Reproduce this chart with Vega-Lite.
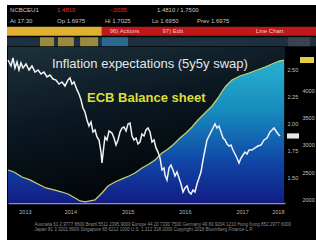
{
  "$schema": "https://vega.github.io/schema/vega-lite/v6.json",
  "background": "#ffffff",
  "padding": {"left": 5, "top": 5, "right": 0, "bottom": 0},
  "spacing": 0,
  "config": {"view": {"stroke": null, "fill": "#000000"}, "font": "Liberation Sans"},
  "datasets": {
    "header": [
      {"row": "status", "seg": "yellow", "a": 0, "b": 30.5},
      {"row": "status", "seg": "red", "a": 30.5, "b": 100},
      {"row": "toolbar", "seg": "slate", "a": 0, "b": 100},
      {"row": "toolbar", "seg": "amber", "a": 10.6, "b": 15.1},
      {"row": "toolbar", "seg": "amber", "a": 16.4, "b": 21.5},
      {"row": "toolbar", "seg": "amber", "a": 23.5, "b": 29.3},
      {"row": "toolbar", "seg": "blue", "a": 30.5, "b": 38.9},
      {"row": "toolbar", "seg": "gray", "a": 90.4, "b": 97.4}
    ],
    "headerText": [
      {"row": "r1", "a": 1, "txt": "NCBCEU1", "tone": "w"},
      {"row": "r1", "a": 16.1, "txt": "1.4810", "tone": "r"},
      {"row": "r1", "a": 33.1, "txt": "-.0035", "tone": "r"},
      {"row": "r1", "a": 48.2, "txt": "1.4810 / 1.7500", "tone": "w"},
      {"row": "r2", "a": 1, "txt": "At 17:30", "tone": "w"},
      {"row": "r2", "a": 16.1, "txt": "Op 1.6975", "tone": "w"},
      {"row": "r2", "a": 31.5, "txt": "Hi 1.7025", "tone": "w"},
      {"row": "r2", "a": 46.6, "txt": "Lo 1.6950", "tone": "w"},
      {"row": "r2", "a": 61.1, "txt": "Prev 1.6975", "tone": "w"},
      {"row": "status", "a": 33, "txt": "96) Actions", "tone": "p"},
      {"row": "status", "a": 50, "txt": "97) Edit", "tone": "p"},
      {"row": "status", "a": 80, "txt": "Line Chart", "tone": "p"}
    ],
    "infl": [
      {"t": 2013.410, "v": 2.583}, {"t": 2013.462, "v": 2.528}, {"t": 2013.497, "v": 2.602}, {"t": 2013.532, "v": 2.509},
      {"t": 2013.567, "v": 2.565}, {"t": 2013.602, "v": 2.491}, {"t": 2013.637, "v": 2.556}, {"t": 2013.672, "v": 2.509},
      {"t": 2013.725, "v": 2.546}, {"t": 2013.777, "v": 2.491}, {"t": 2013.829, "v": 2.528}, {"t": 2013.882, "v": 2.472},
      {"t": 2013.934, "v": 2.491}, {"t": 2013.987, "v": 2.454}, {"t": 2014.039, "v": 2.472}, {"t": 2014.091, "v": 2.426},
      {"t": 2014.144, "v": 2.444}, {"t": 2014.196, "v": 2.407}, {"t": 2014.249, "v": 2.398}, {"t": 2014.301, "v": 2.361},
      {"t": 2014.354, "v": 2.380}, {"t": 2014.406, "v": 2.343}, {"t": 2014.458, "v": 2.398}, {"t": 2014.493, "v": 2.417},
      {"t": 2014.528, "v": 2.361}, {"t": 2014.563, "v": 2.380}, {"t": 2014.616, "v": 2.306}, {"t": 2014.651, "v": 2.269},
      {"t": 2014.686, "v": 2.213}, {"t": 2014.720, "v": 2.139}, {"t": 2014.755, "v": 2.102}, {"t": 2014.790, "v": 2.028},
      {"t": 2014.825, "v": 1.972}, {"t": 2014.860, "v": 2.009}, {"t": 2014.895, "v": 1.917}, {"t": 2014.930, "v": 1.935},
      {"t": 2014.965, "v": 1.870}, {"t": 2015.000, "v": 1.843}, {"t": 2015.035, "v": 1.731}, {"t": 2015.052, "v": 1.630},
      {"t": 2015.087, "v": 1.796}, {"t": 2015.105, "v": 1.870}, {"t": 2015.140, "v": 1.843}, {"t": 2015.175, "v": 1.926},
      {"t": 2015.227, "v": 1.907}, {"t": 2015.262, "v": 1.861}, {"t": 2015.297, "v": 1.796}, {"t": 2015.332, "v": 1.843},
      {"t": 2015.367, "v": 1.917}, {"t": 2015.402, "v": 1.954}, {"t": 2015.437, "v": 1.963}, {"t": 2015.472, "v": 1.926},
      {"t": 2015.507, "v": 1.991}, {"t": 2015.542, "v": 2.000}, {"t": 2015.577, "v": 1.880}, {"t": 2015.612, "v": 1.843},
      {"t": 2015.647, "v": 1.861}, {"t": 2015.681, "v": 1.806}, {"t": 2015.716, "v": 1.824}, {"t": 2015.751, "v": 1.898},
      {"t": 2015.786, "v": 1.880}, {"t": 2015.821, "v": 1.935}, {"t": 2015.856, "v": 1.954}, {"t": 2015.891, "v": 1.917},
      {"t": 2015.926, "v": 1.824}, {"t": 2015.961, "v": 1.843}, {"t": 2015.996, "v": 1.769}, {"t": 2016.031, "v": 1.731},
      {"t": 2016.066, "v": 1.676}, {"t": 2016.101, "v": 1.565}, {"t": 2016.136, "v": 1.583}, {"t": 2016.153, "v": 1.519},
      {"t": 2016.188, "v": 1.472}, {"t": 2016.223, "v": 1.583}, {"t": 2016.258, "v": 1.611}, {"t": 2016.293, "v": 1.565},
      {"t": 2016.328, "v": 1.509}, {"t": 2016.363, "v": 1.546}, {"t": 2016.398, "v": 1.491}, {"t": 2016.433, "v": 1.435},
      {"t": 2016.468, "v": 1.361}, {"t": 2016.503, "v": 1.398}, {"t": 2016.538, "v": 1.417}, {"t": 2016.573, "v": 1.361},
      {"t": 2016.608, "v": 1.343}, {"t": 2016.643, "v": 1.380}, {"t": 2016.677, "v": 1.361}, {"t": 2016.712, "v": 1.435},
      {"t": 2016.747, "v": 1.491}, {"t": 2016.782, "v": 1.546}, {"t": 2016.817, "v": 1.657}, {"t": 2016.852, "v": 1.750},
      {"t": 2016.887, "v": 1.843}, {"t": 2016.922, "v": 1.880}, {"t": 2016.957, "v": 1.917}, {"t": 2016.992, "v": 1.954},
      {"t": 2017.027, "v": 1.991}, {"t": 2017.062, "v": 1.954}, {"t": 2017.097, "v": 1.972}, {"t": 2017.132, "v": 1.917},
      {"t": 2017.167, "v": 1.861}, {"t": 2017.202, "v": 1.843}, {"t": 2017.237, "v": 1.806}, {"t": 2017.272, "v": 1.787},
      {"t": 2017.306, "v": 1.796}, {"t": 2017.341, "v": 1.750}, {"t": 2017.376, "v": 1.713}, {"t": 2017.411, "v": 1.676},
      {"t": 2017.446, "v": 1.630}, {"t": 2017.481, "v": 1.676}, {"t": 2017.516, "v": 1.704}, {"t": 2017.551, "v": 1.731},
      {"t": 2017.586, "v": 1.713}, {"t": 2017.621, "v": 1.750}, {"t": 2017.673, "v": 1.750}, {"t": 2017.726, "v": 1.769},
      {"t": 2017.778, "v": 1.787}, {"t": 2017.831, "v": 1.796}, {"t": 2017.883, "v": 1.843}, {"t": 2017.936, "v": 1.861},
      {"t": 2017.988, "v": 1.917}, {"t": 2018.023, "v": 1.935}, {"t": 2018.058, "v": 1.954}, {"t": 2018.093, "v": 1.926},
      {"t": 2018.128, "v": 1.898}, {"t": 2018.163, "v": 1.880}
    ],
    "ecb": [
      {"t": 2013.410, "e": 2545}, {"t": 2013.515, "e": 2509}, {"t": 2013.655, "e": 2418}, {"t": 2013.794, "e": 2364},
      {"t": 2013.934, "e": 2291}, {"t": 2014.074, "e": 2218}, {"t": 2014.214, "e": 2182}, {"t": 2014.354, "e": 2145},
      {"t": 2014.458, "e": 2109}, {"t": 2014.581, "e": 2036}, {"t": 2014.668, "e": 1982}, {"t": 2014.755, "e": 1964},
      {"t": 2014.843, "e": 1982}, {"t": 2014.930, "e": 2000}, {"t": 2015.000, "e": 2073}, {"t": 2015.052, "e": 2127},
      {"t": 2015.157, "e": 2255}, {"t": 2015.280, "e": 2327}, {"t": 2015.402, "e": 2382}, {"t": 2015.524, "e": 2436},
      {"t": 2015.629, "e": 2491}, {"t": 2015.751, "e": 2582}, {"t": 2015.874, "e": 2655}, {"t": 2015.979, "e": 2727},
      {"t": 2016.101, "e": 2855}, {"t": 2016.206, "e": 2927}, {"t": 2016.311, "e": 3018}, {"t": 2016.415, "e": 3127},
      {"t": 2016.520, "e": 3218}, {"t": 2016.625, "e": 3327}, {"t": 2016.730, "e": 3455}, {"t": 2016.852, "e": 3582},
      {"t": 2016.975, "e": 3709}, {"t": 2017.079, "e": 3855}, {"t": 2017.167, "e": 4000}, {"t": 2017.219, "e": 4073},
      {"t": 2017.324, "e": 4182}, {"t": 2017.464, "e": 4255}, {"t": 2017.621, "e": 4309}, {"t": 2017.761, "e": 4364},
      {"t": 2017.901, "e": 4418}, {"t": 2018.023, "e": 4473}, {"t": 2018.145, "e": 4527}, {"t": 2018.233, "e": 4545}
    ]
  },
  "vconcat": [
    {
      "width": 311,
      "height": 42,
      "encoding": {
        "y": {"field": "row", "type": "nominal", "axis": null,
              "scale": {"domain": ["r1", "r2", "status", "toolbar"], "paddingInner": 0.15, "paddingOuter": 0.075}}
      },
      "layer": [
        {
          "data": {"name": "header"},
          "mark": {"type": "rect"},
          "encoding": {
            "x": {"field": "a", "type": "quantitative", "axis": null, "scale": {"domain": [0, 100], "nice": false, "zero": false}},
            "x2": {"field": "b"},
            "color": {"field": "seg", "type": "nominal", "legend": null,
                      "scale": {"domain": ["yellow", "red", "slate", "amber", "blue", "gray"],
                                "range": ["#e0b030", "#c01818", "#1c3040", "#9a8a40", "#2c6890", "#3a4450"]}}
          }
        },
        {
          "data": {"name": "headerText"},
          "mark": {"type": "text", "align": "left", "baseline": "middle", "fontSize": 6},
          "encoding": {
            "x": {"field": "a", "type": "quantitative", "axis": null, "scale": {"domain": [0, 100], "nice": false, "zero": false}},
            "text": {"field": "txt"},
            "color": {"field": "tone", "type": "nominal", "legend": null,
                      "scale": {"domain": ["w", "r", "p"], "range": ["#c8c8c8", "#e03030", "#f0c8c8"]}}
          }
        }
      ],
      "resolve": {"scale": {"color": "independent"}}
    },
    {
      "width": 311,
      "height": 193,
      "encoding": {
        "x": {
          "field": "t", "type": "quantitative",
          "scale": {"domain": [2013.41, 2018.25], "range": [1, 278], "nice": false, "zero": false},
          "axis": {
            "orient": "bottom", "offset": -37,
            "values": [2013.705, 2014.5, 2015.5, 2016.5, 2017.5, 2018.125],
            "labelExpr": "floor(datum.value)",
            "labelFlush": false, "labelOverlap": false,
            "domainColor": "#8c8cd0", "domainWidth": 1.5,
            "ticks": false, "grid": false,
            "labelColor": "#b4b4b4", "labelFontSize": 5.5, "labelPadding": 6,
            "title": [
              "Australia 61 2 9777 8600 Brazil 5511 2395 9000 Europe 44 20 7330 7500 Germany 49 69 9204 1210 Hong Kong 852 2977 6000",
              "Japan 81 3 3201 8900 Singapore 65 6212 1000 U.S. 1 212 318 2000 Copyright 2018 Bloomberg Finance L.P."
            ],
            "titleFontSize": 4.5, "titleFontWeight": "normal", "titleColor": "#8c8c8c",
            "titleX": 27, "titleY": 18, "titleAlign": "left", "titleBaseline": "top", "titleLineHeight": 5.5
          }
        }
      },
      "layer": [
        {
          "encoding": {
            "y": {
              "field": "e", "type": "quantitative",
              "scale": {"domain": [1945, 4782], "range": [156, 0], "nice": false, "zero": false},
              "axis": {
                "orient": "right", "offset": -33, "values": [2000, 2500, 3000, 3500, 4000], "format": "d",
                "labelColor": "#c0c0c0", "labelFontSize": 5.5, "labelPadding": 17, "labelAlign": "left",
                "ticks": false, "domain": false, "grid": false, "title": null
              }
            }
          },
          "layer": [
            {
              "data": {"values": [{"t": 2013.41, "t2": 2018.25, "e": 1945, "e2": 4782}]},
              "mark": {"type": "rect",
                       "fill": {"gradient": "linear", "x1": 0, "y1": 0, "x2": 0.4, "y2": 1,
                                "stops": [{"offset": 0, "color": "#1c323c"}, {"offset": 0.5, "color": "#0a1620"}, {"offset": 1, "color": "#020406"}]}},
              "encoding": {"x2": {"field": "t2"}, "y2": {"field": "e2"}}
            },
            {
              "data": {"name": "ecb"},
              "mark": {"type": "area",
                       "fill": {"gradient": "linear", "x1": 0, "y1": 0, "x2": 0, "y2": 1,
                                "stops": [{"offset": 0, "color": "#28b2cf"}, {"offset": 0.35, "color": "#178cbe"}, {"offset": 0.7, "color": "#1048a8"}, {"offset": 1, "color": "#121c84"}]}},
              "encoding": {"y2": {"datum": 1945}}
            },
            {
              "data": {"name": "ecb"},
              "mark": {"type": "line", "color": "#c4cf72", "strokeWidth": 1.3}
            },
            {
              "data": {"values": [{"t": 2014.79, "e": 3855, "label": "ECB Balance sheet"}]},
              "mark": {"type": "text", "align": "left", "baseline": "middle", "fontSize": 13, "fontWeight": "bold", "color": "#dede3a"},
              "encoding": {"text": {"field": "label"}}
            },
            {
              "data": {"values": [{"t": 2018.233, "e": 4545}]},
              "mark": {"type": "point", "shape": "M-1,-0.43L1,-0.43L1,0.43L-1,0.43Z", "size": 196, "filled": true, "fill": "#e2d242", "strokeWidth": 0, "opacity": 1, "xOffset": 23}
            }
          ]
        },
        {
          "encoding": {
            "y": {
              "field": "v", "type": "quantitative",
              "scale": {"domain": [1.2593, 2.7037], "range": [156, 0], "nice": false, "zero": false},
              "axis": {
                "orient": "right", "offset": -33, "values": [1.5, 1.75, 2, 2.25, 2.5], "format": ".2f",
                "labelColor": "#c0c0c0", "labelFontSize": 5.5, "labelPadding": 2, "labelAlign": "left",
                "ticks": false, "domain": false, "grid": false, "title": null
              }
            }
          },
          "layer": [
            {
              "data": {"name": "infl"},
              "mark": {"type": "line", "color": "#f2f2f2", "strokeWidth": 1.5}
            },
            {
              "data": {"values": [{"t": 2014.179, "v": 2.546, "label": "Inflation expectations (5y5y swap)"}]},
              "mark": {"type": "text", "align": "left", "baseline": "middle", "fontSize": 13, "color": "#e6e6e6"},
              "encoding": {"text": {"field": "label"}}
            },
            {
              "data": {"values": [{"t": 2018.163, "v": 1.88}]},
              "mark": {"type": "point", "shape": "M-1,-0.43L1,-0.43L1,0.43L-1,0.43Z", "size": 144, "filled": true, "fill": "#e8e8e8", "strokeWidth": 0, "opacity": 1, "xOffset": 13}
            }
          ]
        }
      ],
      "resolve": {"scale": {"y": "independent"}, "axis": {"y": "independent"}}
    }
  ]
}
